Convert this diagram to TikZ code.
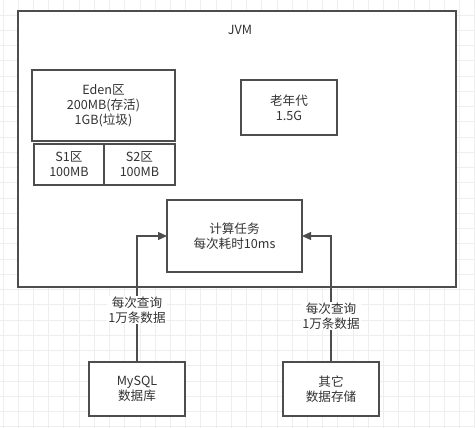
\documentclass[tikz,border=0pt]{standalone}
\usepackage{fontspec}
\setmainfont{Noto Sans CJK SC}
\usetikzlibrary{arrows.meta, positioning}

\definecolor{linegray}{RGB}{77,77,77}
\definecolor{textgray}{RGB}{51,51,51}
\definecolor{gridgray}{RGB}{238,238,238}

\begin{document}
\begin{tikzpicture}[x=1pt,y=-1pt,font=\fontsize{12.6}{15}\selectfont,>={Triangle[length=9pt,width=8pt]},line width=1.2pt]

		\tikzset{node box/.style={draw=linegray, fill=white,
				text=textgray, align=center,
				inner sep=0pt, outer sep=0pt}}
		\tikzset{node lbl/.style={fill=white, text=textgray,
				align=center, inner sep=1pt}}

	\useasboundingbox (0,0) rectangle (475,428);
	% background grid
	\foreach \i in {0,...,31}
		\draw[gridgray, line width=0.8pt] (3+15.22*\i,0) -- (3+15.22*\i,428);
	\foreach \j in {0,...,27}
		\draw[gridgray, line width=0.8pt] (0,15+15.25*\j) -- (475,15+15.25*\j);

	\node[node box, minimum width=438pt, minimum height=276pt] (JVM) at (237,149) {};
	\node[text=textgray] (JVMlbl) at (240,30) {JVM};

	\node[node box, minimum width=143pt, minimum height=71pt] (Eden) at (103.5,105.5) {Eden区\\200MB(存活)\\1GB(垃圾)};
	\node[node box, minimum width=70pt, minimum height=41pt] (S1) at (69,164.5) {S1区\\100MB};
	\node[node box, minimum width=71pt, minimum height=41pt, right=0pt of S1] (S2) {S2区\\100MB};

	\node[node box, minimum width=96pt, minimum height=55pt] (Old) at (289,107.5) {老年代\\1.5G};
	\node[node box, minimum width=135pt, minimum height=72pt] (Task) at (234.5,236) {计算任务\\每次耗时10ms};

	\node[node box, minimum width=96pt, minimum height=54pt] (MySQL) at (137,389) {MySQL\\数据库};
	\node[node box, minimum width=96pt, minimum height=54pt] (Other) at (331,389) {其它\\数据存储};

	\draw[->, draw=linegray] (MySQL.north) |- (Task.west);
	\draw[->, draw=linegray] (Other.north) |- (Task.east);

	\node[node lbl] (q1) at (137,310) {每次查询\\1万条数据};
	\node[node lbl] (q2) at (331,316) {每次查询\\1万条数据};
	\end{tikzpicture}
\end{document}
